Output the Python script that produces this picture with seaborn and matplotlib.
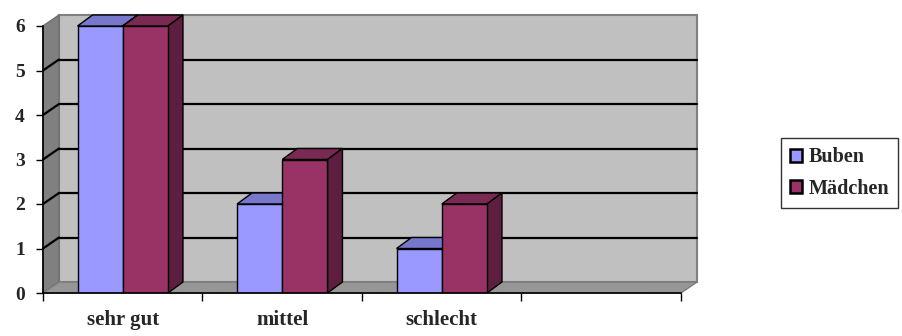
import matplotlib
matplotlib.use("Agg")
import matplotlib.pyplot as plt
from matplotlib.patches import Polygon
import seaborn as sns
import pandas as pd
import numpy as np

# Survey results
categories = ["sehr gut", "mittel", "schlecht", ""]
buben = [6, 2, 1, 0]
maedchen = [6, 3, 2, 0]
series = ["Buben", "Mädchen"]
y_ticks = [0, 1, 2, 3, 4, 5, 6]

front_colors = {"Buben": "#9999FF", "Mädchen": "#993366"}
top_colors = {"Buben": "#7777CC", "Mädchen": "#7A2952"}
side_colors = {"Buben": "#5C5CA8", "Mädchen": "#5E1E40"}

df = pd.DataFrame({
    "Kategorie": categories * 2,
    "Anzahl": buben + maedchen,
    "Gruppe": ["Buben"] * len(categories) + ["Mädchen"] * len(categories),
})

sns.set_style("white")
plt.rcParams["font.family"] = ["Liberation Serif", "DejaVu Serif"]
plt.rcParams["font.weight"] = "bold"

W, H = 902, 336
fig = plt.figure(figsize=(W / 100, H / 100), dpi=100)
ax = fig.add_axes([43 / W, (H - 293) / H, (681 - 43) / W, (293 - 26) / H])

sns.barplot(data=df, x="Kategorie", y="Anzahl", hue="Gruppe", order=categories,
            hue_order=series, palette=front_colors, saturation=1, width=0.567,
            edgecolor="black", linewidth=1, ax=ax, legend=True, zorder=3)

ax.set_xlim(-0.5, 3.5)
ax.set_ylim(0, 6)

# depth of the 3D effect, converted from pixels to data units
px_x = 4.0 / (681 - 43)
px_y = 6.0 / (293 - 26)
dx, dy = 16 * px_x, 11 * px_y
bdx, bdy = 15 * px_x, 11 * px_y

x0, x1 = -0.5, 3.5
# walls and floor
ax.add_patch(Polygon([(x0 + dx, dy), (x1 + dx, dy), (x1 + dx, 6 + dy), (x0 + dx, 6 + dy)],
                     closed=True, facecolor="#C0C0C0", edgecolor="#808080", lw=1.5,
                     clip_on=False, zorder=0.5))
ax.add_patch(Polygon([(x0, 0), (x0 + dx, dy), (x0 + dx, 6 + dy), (x0, 6)],
                     closed=True, facecolor="#808080", edgecolor="#6E6E6E", lw=1,
                     clip_on=False, zorder=0.6))
ax.add_patch(Polygon([(x0, 0), (x1, 0), (x1 + dx, dy), (x0 + dx, dy)],
                     closed=True, facecolor="#969696", edgecolor="#7A7A7A", lw=1,
                     clip_on=False, zorder=0.6))
for t in y_ticks[1:-1]:
    ax.plot([x0 + dx, x1 + dx], [t + dy, t + dy], color="black", lw=1.6,
            clip_on=False, zorder=1)
    ax.plot([x0, x0 + dx], [t, t + dy], color="black", lw=1.6,
            clip_on=False, zorder=1)

# top and side faces of each bar
for bars, name in zip(ax.containers, series):
    for rect in bars:
        h = rect.get_height()
        if h <= 0:
            continue
        bx0 = rect.get_x()
        bx1 = bx0 + rect.get_width()
        ax.add_patch(Polygon([(bx0, h), (bx1, h), (bx1 + bdx, h + bdy), (bx0 + bdx, h + bdy)],
                             closed=True, facecolor=top_colors[name], edgecolor="black",
                             lw=1, clip_on=False, zorder=2.5))
        ax.add_patch(Polygon([(bx1, 0), (bx1 + bdx, bdy), (bx1 + bdx, h + bdy), (bx1, h)],
                             closed=True, facecolor=side_colors[name], edgecolor="black",
                             lw=1, clip_on=False, zorder=2.5))

# axes lines and ticks
for s in ["top", "right"]:
    ax.spines[s].set_visible(False)
for s in ["left", "bottom"]:
    ax.spines[s].set_color("black")
    ax.spines[s].set_linewidth(1.2)
    ax.spines[s].set_zorder(4)
ax.set_yticks(y_ticks)
ax.set_yticklabels([str(t) for t in y_ticks], fontsize=14, fontweight="bold")
ax.set_xticks([-0.5, 0.5, 1.5, 2.5, 3.5])
ax.set_xticklabels([])
ax.set_xticks(range(len(categories)), minor=True)
ax.set_xticklabels(categories, minor=True, fontsize=15, fontweight="bold")
ax.tick_params(axis="y", which="major", length=5, width=1, color="black", pad=8, left=True)
ax.tick_params(axis="x", which="major", length=6, width=1, color="black", bottom=True)
ax.tick_params(axis="x", which="minor", length=0, pad=12)
ax.set_xlabel("")
ax.set_ylabel("")

leg = ax.legend(loc="center", bbox_to_anchor=(839.5 / W, (H - 173) / H),
                bbox_transform=fig.transFigure, frameon=True, fancybox=False,
                prop={"family": "Liberation Serif", "weight": "bold", "size": 14.5},
                handlelength=0.6, handleheight=0.6, handletextpad=0.3,
                borderpad=0.45, labelspacing=0.55, borderaxespad=0)
leg.get_frame().set_edgecolor("black")
leg.get_frame().set_linewidth(1)
for p in leg.get_patches():
    p.set_edgecolor("black")
    p.set_linewidth(1.8)

fig.savefig("out.png", dpi=100)
